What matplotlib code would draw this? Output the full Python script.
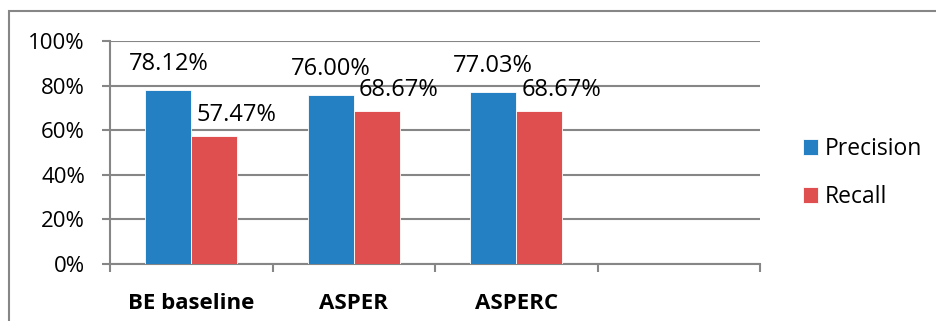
import matplotlib.pyplot as plt
import matplotlib.patches as mpatches
import numpy as np

categories = ["BE baseline", "ASPER", "ASPERC", ""]
precision = [78.12, 76.00, 77.03]
recall = [57.47, 68.67, 68.67]
yticks = [0, 20, 40, 60, 80, 100]

blue = "#2480c3"
red = "#df4f4f"
grey = "#868686"

plt.rcParams['font.family'] = ['Open Sans', 'DejaVu Sans']

fig = plt.figure(figsize=(9.36, 3.21), dpi=100)
ax = fig.add_axes([110/936, 1-264/321, 650/936, 223/321])

# outer chart border
fig.patches.append(mpatches.Rectangle((9/936, -0.1), 1.0, 1-11/321+0.1,
                                      transform=fig.transFigure, fill=False,
                                      edgecolor=grey, lw=1.5))

x = np.arange(len(precision))
w = 0.283
b1 = ax.bar(x - w/2, precision, w, color=blue, edgecolor='white', lw=0.6,
            label="Precision", zorder=3)
b2 = ax.bar(x + w/2, recall, w, color=red, edgecolor='white', lw=0.6,
            label="Recall", zorder=3)

for xi, v in zip(x, precision):
    ax.annotate(f"{v:.2f}%", (xi - w/2, v), xytext=(0, 26),
                textcoords='offset pixels', ha='center', va='center', fontsize=17)
for xi, v in zip(x, recall):
    ax.annotate(f"{v:.2f}%", (xi + w/2, v), xytext=(22, 21),
                textcoords='offset pixels', ha='center', va='center', fontsize=17)

ax.set_xlim(-0.5, len(categories) - 0.5)
ax.set_ylim(0, 100)
ax.set_yticks(yticks)
ax.set_yticklabels([f"{t}%" for t in yticks], fontsize=16)
ax.yaxis.grid(True, color=grey, lw=1.5, zorder=0)

ax.set_xticks(np.arange(len(categories) + 1) - 0.5)
ax.set_xticklabels([])
ax.set_xticks(np.arange(len(categories)), minor=True)
ax.set_xticklabels(categories, minor=True, fontsize=16, fontweight='bold')
ax.tick_params(axis='x', which='minor', length=0, pad=21)
ax.tick_params(axis='x', which='major', length=6, width=1.5, color=grey)
ax.tick_params(axis='y', length=6, width=1.5, color=grey, pad=12)

for s in ['top', 'right']:
    ax.spines[s].set_visible(False)
for s in ['left', 'bottom']:
    ax.spines[s].set_color(grey)
    ax.spines[s].set_linewidth(1.5)

fig.legend(handles=[b1, b2], loc='center left',
           bbox_to_anchor=(803/936, 1-173/321), frameon=False, fontsize=16.5,
           handlelength=0.66, handleheight=0.66, handletextpad=0.3,
           labelspacing=1.05, borderpad=0, borderaxespad=0)

fig.savefig("out.png", dpi=100)
